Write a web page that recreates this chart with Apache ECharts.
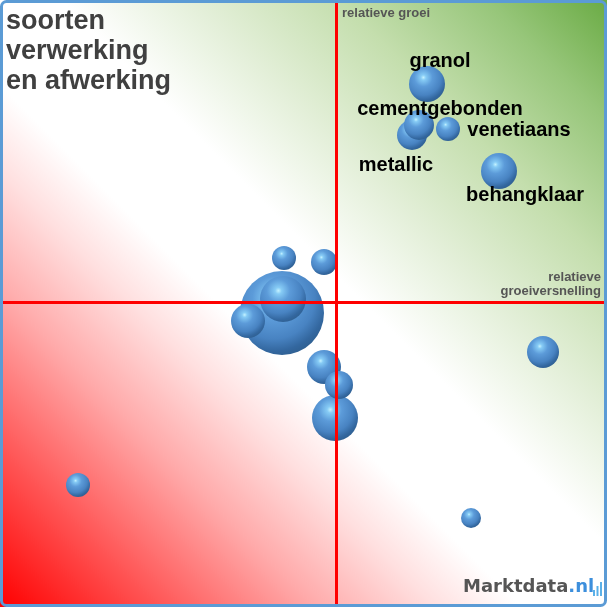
<!DOCTYPE html>
<html>
<head>
<meta charset="utf-8">
<script src="https://cdn.jsdelivr.net/npm/echarts@6/dist/echarts.min.js"></script>
<style>
html,body{margin:0;padding:0;background:#fff;}
#chart{width:607px;height:607px;}
</style>
</head>
<body>
<div id="chart"></div>
<script>
// Data (x: relatieve groeiversnelling, y: relatieve groei, omvang: bubble size)
const labels = ['', '', '', '', '', '', '', '', '', '', '', 'granol', 'metallic', 'cementgebonden', 'venetiaans', 'behangklaar'];
const xValues = [-258, 135, -54, -53, -88, -52, -12, -1, -12, 3, 207, 91, 76, 83, 112, 163];
const yValues = [-183, -216, -11, 3, -19, 44, 40, -116, -65, -83, -50, 218, 167, 177, 173, 131];
const omvang  = [144, 100, 1764, 529, 289, 144, 169, 529, 289, 196, 256, 324, 225, 225, 144, 324];

const titleLines = ['soorten', 'verwerking', 'en afwerking'];
const xAxisTitleLines = ['relatieve', 'groeiversnelling'];
const yAxisTitle = 'relatieve groei';
const brandName = 'Marktdata';
const brandSuffix = '.nl';

// label placement (style, not data)
const labelOffsets = {
  granol: [13, -23],
  cementgebonden: [21, -16],
  venetiaans: [71, 1],
  metallic: [-16, 30],
  behangklaar: [26, 24]
};

const chart = echarts.init(document.getElementById('chart'), null, {renderer: 'canvas'});

const sphere = {
  type: 'radial', x: 0.4, y: 0.32, r: 0.72,
  colorStops: [
    {offset: 0, color: '#c4f2ff'},
    {offset: 0.1, color: '#86cbf5'},
    {offset: 0.35, color: '#5c9bd9'},
    {offset: 0.68, color: '#4883c2'},
    {offset: 0.88, color: '#33679f'},
    {offset: 1, color: '#2f5f90'}
  ]
};

const data = xValues.map((x, i) => {
  const item = {name: labels[i], value: [x, yValues[i], omvang[i]]};
  if (labels[i]) {
    item.label = {show: true, position: 'inside', formatter: labels[i]};
  }
  return item;
});

const fontA = '"Liberation Sans", Arial, sans-serif';

chart.setOption({
  animation: false,
  grid: {left: 0, right: 0, top: 0, bottom: 0},
  xAxis: {type: 'value', min: -336, max: 271, show: false, splitLine: {show: false}},
  yAxis: {type: 'value', min: -305, max: 302, show: false, splitLine: {show: false}},
  graphic: [
    {
      type: 'rect', z: -10, silent: true,
      shape: {x: 0, y: 0, width: 607, height: 607},
      style: {
        fill: new echarts.graphic.LinearGradient(0, 1, 1, 0, [
          {offset: 0, color: '#ff0000'},
          {offset: 0.13, color: '#ff5454'},
          {offset: 0.26, color: '#ffaaaa'},
          {offset: 0.36, color: '#ffe0e0'},
          {offset: 0.43, color: '#ffffff'},
          {offset: 0.55, color: '#ffffff'},
          {offset: 0.66, color: '#e3efd8'},
          {offset: 0.78, color: '#c4dead'},
          {offset: 0.9, color: '#97c67a'},
          {offset: 1, color: '#6aab44'}
        ])
      }
    },
    {
      type: 'text', left: 6, top: 7, z: 100,
      style: {text: titleLines.join('\n'), font: 'bold 27px ' + fontA, fill: '#404040', lineHeight: 30}
    },
    {
      type: 'text', left: 342, top: 7, z: 100,
      style: {text: yAxisTitle, font: 'bold 13px ' + fontA, fill: '#555555'}
    },
    {
      type: 'text', right: 6, top: 271, z: 100,
      style: {text: xAxisTitleLines[0], font: 'bold 13px ' + fontA, fill: '#555555'}
    },
    {
      type: 'text', right: 6, top: 285, z: 100,
      style: {text: xAxisTitleLines[1], font: 'bold 13px ' + fontA, fill: '#555555'}
    },
    {
      type: 'text', left: 463, top: 578, z: 100,
      style: {
        text: '{a|' + brandName + '}{b|' + brandSuffix + '}',
        rich: {
          a: {font: 'bold 18px "DejaVu Sans", sans-serif', fill: '#555555'},
          b: {font: 'bold 18px "DejaVu Sans", sans-serif', fill: '#3d8fdc'}
        }
      }
    },
    {type: 'rect', z: 100, shape: {x: 593, y: 590, width: 2, height: 6}, style: {fill: '#5ab0e8'}},
    {type: 'rect', z: 100, shape: {x: 596.5, y: 586, width: 2, height: 10}, style: {fill: '#5ab0e8'}},
    {type: 'rect', z: 100, shape: {x: 600, y: 582, width: 2, height: 14}, style: {fill: '#5ab0e8'}},
    {
      type: 'rect', z: 200, silent: true,
      shape: {x: 1.5, y: 1.5, width: 604, height: 604, r: 5},
      style: {fill: 'none', stroke: '#5b9bd5', lineWidth: 3}
    }
  ],
  series: [{
    type: 'scatter',
    data: data,
    symbolSize: function (v) { return 2 * Math.sqrt(v[2]); },
    itemStyle: {color: sphere, opacity: 1},
    emphasis: {disabled: true},
    label: {show: false, color: '#000000', opacity: 1, fontWeight: 'bold', fontSize: 20, fontFamily: fontA, textBorderWidth: 0, textShadowBlur: 0},
    labelLayout: function (params) {
      const name = labels[params.dataIndex];
      const o = labelOffsets[name];
      return o ? {dx: o[0], dy: o[1], hideOverlap: false} : {};
    },
    markLine: {
      silent: true, symbol: 'none', animation: false,
      label: {show: false},
      emphasis: {disabled: true},
      lineStyle: {color: '#ff0000', width: 3, type: 'solid', opacity: 1},
      data: [{xAxis: 0}, {yAxis: 0}]
    }
  }]
});
</script>
</body>
</html>
